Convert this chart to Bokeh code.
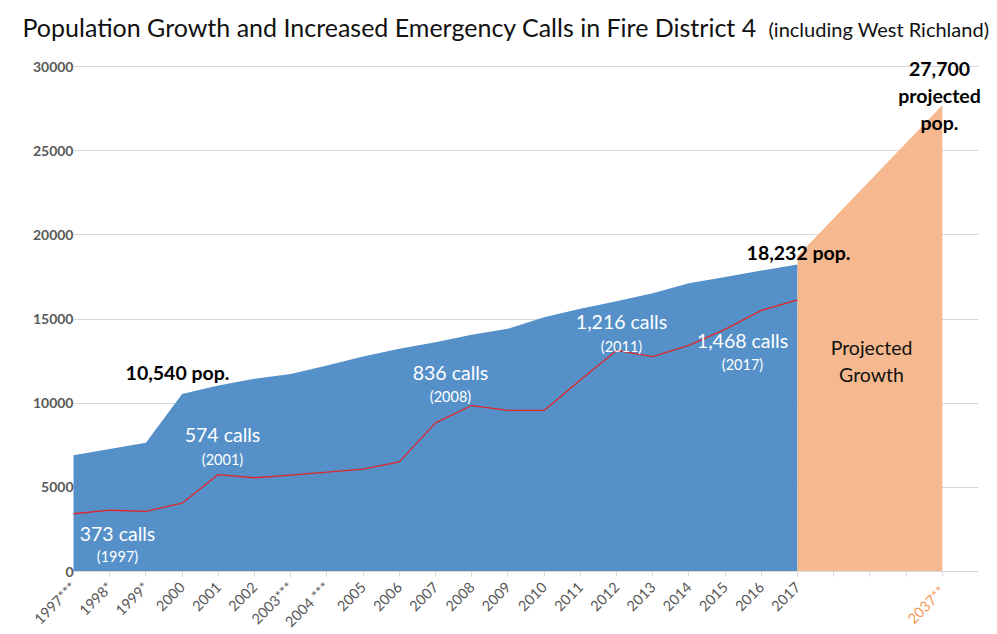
import math
import numpy as np
from bokeh.plotting import figure
from bokeh.models import Range1d, FixedTicker, Label
from bokeh.embed import file_html
from bokeh.resources import INLINE

# ---- data ----
years = ["1997***", "1998*", "1999*", "2000", "2001", "2002", "2003***", "2004 ***",
         "2005", "2006", "2007", "2008", "2009", "2010", "2011", "2012", "2013",
         "2014", "2015", "2016", "2017"]
spare_slots = ["", "", ""]
projection_year = "2037**"

population = [6900, 7270, 7650, 10540, 11050, 11450, 11730, 12240, 12770, 13230,
              13620, 14060, 14420, 15110, 15610, 16060, 16530, 17130, 17490, 17880, 18232]
calls_line = [3430, 3640, 3570, 4060, 5760, 5570, 5730, 5900, 6080, 6510, 8830,
              9860, 9570, 9570, 11370, 13130, 12770, 13430, 14380, 15510, 16140]
projected_values = [18750, 27700]

y_ticks = [0, 5000, 10000, 15000, 20000, 25000, 30000]

categories = years + spare_slots + [projection_year]
idx = np.arange(len(categories))
hist_idx = idx[:len(years)]
proj_idx = [idx[len(years) - 1], idx[-1]]

BLUE = "#5590C8"
ORANGE = "#F6B98F"
RED = "#E0262B"
GRID = "#D9D9D9"
FONT = "Lato"

W, H = 995, 632
# pixel geometry of the plot area: value 0 at y=571, 30000 at y=66; slot 0 at x=73, 36.2 px per slot
PX_PER_UNIT = 505 / 30000.0
PX_PER_SLOT = 36.2
X0 = 73

def vy(py):
    return (571 - py) / PX_PER_UNIT

def ix(px):
    return (px - X0) / PX_PER_SLOT

p = figure(width=W, height=H, output_backend="svg", toolbar_location=None,
           x_range=Range1d(ix(0), ix(W)), y_range=Range1d(vy(H), vy(0)),
           min_border=0)
p.outline_line_color = None
p.background_fill_color = "white"
p.border_fill_color = "white"

# grid
p.xgrid.grid_line_color = None
p.ygrid.grid_line_color = GRID
p.ygrid.ticker = FixedTicker(ticks=y_ticks)
p.ygrid.cross_bounds = (0, 25)

# areas
p.varea(x=hist_idx, y1=0, y2=population, fill_color=BLUE, fill_alpha=1.0)
p.varea(x=proj_idx, y1=0, y2=projected_values, fill_color=ORANGE, fill_alpha=1.0)
p.line(x=hist_idx, y=calls_line, line_color=RED, line_width=1.3)

# axes
p.yaxis.fixed_location = ix(80)
p.yaxis.ticker = FixedTicker(ticks=y_ticks)
p.yaxis.axis_line_color = None
p.yaxis.major_tick_line_color = None
p.yaxis.major_tick_out = 0
p.yaxis.major_tick_in = 0
p.yaxis.minor_tick_line_color = None
p.yaxis.minor_tick_out = 0
p.yaxis.major_label_standoff = 7
p.yaxis.major_label_text_font = FONT
p.yaxis.major_label_text_font_style = "bold"
p.yaxis.major_label_text_font_size = "14px"
p.yaxis.major_label_text_color = "#595959"

p.xaxis.fixed_location = 0
p.xaxis.bounds = (0, 24)
p.xaxis.ticker = FixedTicker(ticks=list(idx))
overrides = {int(i): c for i, c in enumerate(categories)}
overrides[int(idx[-1])] = ""
p.xaxis.major_label_overrides = overrides
p.xaxis.major_label_orientation = math.pi / 4
p.xaxis.axis_line_color = GRID
p.xaxis.major_tick_line_color = GRID
p.xaxis.major_tick_out = 5
p.xaxis.major_tick_in = 0
p.xaxis.minor_tick_line_color = None
p.xaxis.major_label_standoff = 8
p.xaxis.major_label_text_font = FONT
p.xaxis.major_label_text_font_size = "14.5px"
p.xaxis.major_label_text_color = "#595959"

# orange projection tick label
p.add_layout(Label(x=ix(942), y=vy(588), text=projection_year, angle=math.pi / 4,
                   text_align="right", text_baseline="middle", text_font=FONT,
                   text_font_size="14.5px", text_color="#F59A5A"))

def lab(x, y, text, size, color="black", style="normal", align="center"):
    p.add_layout(Label(x=x, y=y, text=text, text_align=align, text_baseline="middle",
                       text_font=FONT, text_font_size=size, text_color=color,
                       text_font_style=style))

# title
lab(ix(22), vy(26), "Population Growth and Increased Emergency Calls in Fire District 4",
    "25px", color="#111111", align="left")
lab(ix(768), vy(28), "(including West Richland)", "20px", color="#111111", align="left")

# annotations
lab(ix(177), vy(372), "10,540 pop.", "19.5px", style="bold")
lab(ix(798), vy(252), "18,232 pop.", "19.5px", style="bold")
lab(ix(939), vy(68), "27,700", "19.5px", style="bold")
lab(ix(939), vy(95), "projected", "19.5px", style="bold")
lab(ix(939), vy(122), "pop.", "19.5px", style="bold")

lab(ix(117), vy(533), "373 calls", "19.5px", color="white")
lab(ix(117), vy(556), "(1997)", "14.5px", color="white")
lab(ix(222), vy(434), "574 calls", "19.5px", color="white")
lab(ix(222), vy(459), "(2001)", "14.5px", color="white")
lab(ix(450), vy(372), "836 calls", "19.5px", color="white")
lab(ix(450), vy(396), "(2008)", "14.5px", color="white")
lab(ix(621), vy(321), "1,216 calls", "19.5px", color="white")
lab(ix(621), vy(346), "(2011)", "14.5px", color="white")
lab(ix(742), vy(340), "1,468 calls", "19.5px", color="white")
lab(ix(742), vy(364), "(2017)", "14.5px", color="white")

lab(ix(871), vy(347), "Projected", "19.5px", color="#111111")
lab(ix(871), vy(374), "Growth", "19.5px", color="#111111")

open("out.html", "w").write(file_html(p, INLINE))
